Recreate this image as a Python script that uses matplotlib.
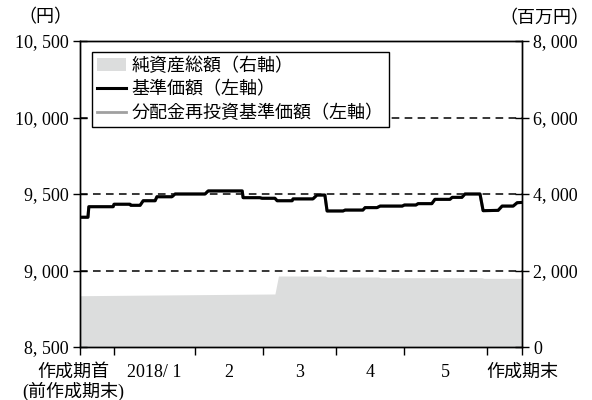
import numpy as np
import matplotlib
matplotlib.use('Agg')
import matplotlib.pyplot as plt
from matplotlib.patches import Patch
from matplotlib.lines import Line2D
from matplotlib.transforms import ScaledTranslation

plt.rcParams['font.family'] = ['Liberation Serif', 'Noto Sans CJK JP']
plt.rcParams['font.size'] = 13

# x axis: position within the period, 0 = start, 100 = end
month_bounds = [0, 7.7, 26.0, 41.4, 57.9, 73.3, 92.1, 100]
month_labels = ['2018/ 1', '2', '3', '4', '5']

# NAV per unit (yen, left axis)
nav_x = [0, 1.8, 2.0, 7.5, 7.7, 11.3, 11.5, 13.6, 14.3, 17.0, 17.4, 20.8, 21.5, 28.3,
         29.0, 36.7, 36.9, 40.7, 41.2, 44.1, 44.6, 48.0, 48.2, 52.7, 53.6, 55.4, 55.9,
         59.5, 60.0, 64.0, 64.5, 67.2, 67.9, 72.9, 73.4, 76.0, 76.5, 79.6, 80.3, 83.7,
         84.2, 86.4, 87.1, 90.5, 91.2, 94.6, 95.5, 98.0, 98.9, 100]
nav = [9348, 9348, 9417, 9417, 9433, 9433, 9426, 9426, 9456, 9456, 9482, 9482, 9500, 9500,
       9520, 9520, 9476, 9476, 9472, 9472, 9456, 9456, 9468, 9468, 9493, 9493, 9389,
       9389, 9395, 9395, 9411, 9411, 9421, 9421, 9428, 9428, 9437, 9437, 9465, 9465,
       9478, 9478, 9500, 9500, 9391, 9393, 9421, 9421, 9443, 9445]
# reinvested NAV (no distribution in period, same as NAV)
nav_reinv = list(nav)

# net assets (million yen, right axis)
assets_x = [0, 44.1, 44.9, 55.4, 56.0, 67.5, 68.0, 90.9, 91.4, 100]
assets = [1341, 1386, 1856, 1856, 1830, 1830, 1812, 1812, 1795, 1795]

fig = plt.figure(figsize=(5.92, 4.0), dpi=100)
ax = fig.add_axes([80/592, 53/400, 442/592, 306/400])
ax2 = ax.twinx()
ax.set_zorder(ax2.get_zorder() + 1)
ax.patch.set_visible(False)

ax2.fill_between(assets_x, 0, assets, color='#dcdddd', lw=0)
ax2.set_ylim(0, 8000)
ax2.set_yticks([0, 2000, 4000, 6000, 8000])
ax2.set_yticklabels(['0', '2, 000', '4, 000', '6, 000', '8, 000'])

for g in [9000, 9500, 10000]:
    ax.axhline(g, color='black', lw=1.1, ls=(0, (5, 3.5)), zorder=1)
ax.plot(nav_x, nav_reinv, color='#a0a0a0', lw=2.2, zorder=2)
ax.plot(nav_x, nav, color='black', lw=2.2, zorder=3)

ax.set_xlim(0, 100)
ax.set_ylim(8500, 10500)
ax.set_yticks([8500, 9000, 9500, 10000, 10500])
ax.set_yticklabels(['8, 500', '9, 000', '9, 500', '10, 000', '10, 500'])

ax.set_xticks(month_bounds)
ax.set_xticklabels(['作成期首\n(前作成期末)', '', '', '', '', '', '', '作成期末'],
                   va='top', linespacing=1.05)
mids = [(month_bounds[i] + month_bounds[i + 1]) / 2 for i in range(1, 6)]
ax.set_xticks(mids, minor=True)
ax.set_xticklabels(month_labels, minor=True)
ax.tick_params(axis='x', which='major', direction='out', length=6, width=1, pad=6)
ax.tick_params(axis='x', which='minor', length=0, pad=12)
ax.tick_params(axis='y', direction='inout', length=10, width=1, pad=3)
ax2.tick_params(axis='y', direction='inout', length=10, width=1, pad=3)
lab0 = ax.get_xticklabels()[0]
lab0.set_transform(lab0.get_transform() + ScaledTranslation(-5/72, 0, fig.dpi_scale_trans))

for a in (ax, ax2):
    for s in a.spines.values():
        s.set_linewidth(1)

handles = [Patch(facecolor='#dcdddd', edgecolor='none'),
           Line2D([], [], color='black', lw=2.2),
           Line2D([], [], color='#a0a0a0', lw=2.0)]
labels = ['純資産総額（右軸）', '基準価額（左軸）', '分配金再投資基準価額（左軸）']
leg = ax.legend(handles, labels, loc='upper left', bbox_to_anchor=(0.027, 0.964),
                borderaxespad=0, fancybox=False, framealpha=1, edgecolor='black',
                handlelength=1.6, handletextpad=0.3, labelspacing=0.35, borderpad=0.3)
leg.get_frame().set_linewidth(1)

fig.text(45/592, 1 - 18/400, '（円）', ha='center', va='center')
fig.text(589/592, 1 - 19/400, '（百万円）', ha='right', va='center')

fig.savefig('out.png', dpi=100)
